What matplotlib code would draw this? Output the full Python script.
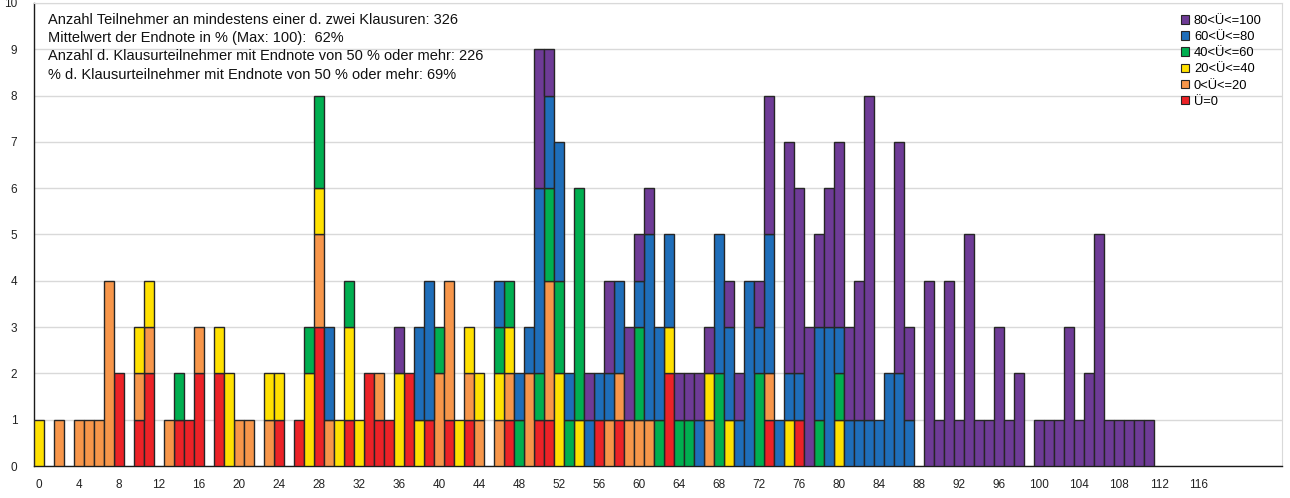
import matplotlib.pyplot as plt
import numpy as np
from matplotlib.patches import Patch

# Endnote in % (0..111), Anzahl Teilnehmer je Übungsgruppe
scores = np.arange(112)

red = [0, 0, 0, 0, 0, 0, 0, 0, 2, 0,
       1, 2, 0, 0, 1, 1, 2, 0, 2, 0,
       0, 0, 0, 0, 1, 0, 1, 0, 3, 0,
       0, 1, 0, 2, 1, 1, 0, 2, 0, 1,
       0, 1, 0, 1, 0, 0, 0, 1, 0, 0,
       1, 1, 0, 0, 0, 0, 1, 0, 1, 0,
       0, 0, 0, 2, 0, 0, 0, 0, 0, 0,
       0, 0, 0, 1, 0, 0, 1, 0, 0, 0] + [0] * 32

orange = [0, 0, 1, 0, 1, 1, 1, 4, 0, 0,
          1, 1, 0, 1, 0, 0, 1, 0, 0, 0,
          1, 1, 0, 1, 0, 0, 0, 0, 2, 1,
          0, 0, 0, 0, 1, 0, 0, 0, 0, 0,
          2, 3, 0, 1, 1, 0, 1, 1, 0, 2,
          0, 3, 0, 0, 0, 0, 0, 1, 1, 1,
          1, 1, 0, 0, 0, 0, 0, 1, 0, 0,
          0, 0, 0, 1, 0, 0, 0, 0, 0, 0] + [0] * 32

yellow = [1, 0, 0, 0, 0, 0, 0, 0, 0, 0,
          1, 1, 0, 0, 0, 0, 0, 0, 1, 2,
          0, 0, 0, 1, 1, 0, 0, 2, 1, 0,
          1, 2, 1, 0, 0, 0, 2, 0, 1, 0,
          0, 0, 1, 1, 1, 0, 1, 1, 0, 0,
          0, 0, 2, 0, 1, 0, 0, 0, 0, 0,
          0, 0, 0, 1, 0, 0, 0, 1, 0, 1,
          0, 0, 0, 0, 0, 1, 0, 0, 0, 0,
          1, 0, 0, 0, 0, 0, 0, 0, 0, 0] + [0] * 22

green = [0, 0, 0, 0, 0, 0, 0, 0, 0, 0,
         0, 0, 0, 0, 1, 0, 0, 0, 0, 0,
         0, 0, 0, 0, 0, 0, 0, 1, 2, 0,
         0, 1, 0, 0, 0, 0, 0, 0, 0, 0,
         1, 0, 0, 0, 0, 0, 1, 1, 1, 0,
         1, 2, 2, 1, 5, 0, 0, 0, 0, 0,
         2, 0, 1, 0, 1, 1, 0, 0, 2, 0,
         0, 0, 2, 0, 0, 0, 0, 0, 1, 0,
         1, 0, 0, 0, 0, 0, 0, 0, 0, 0] + [0] * 22

blue = [0] * 20 + [
        0, 0, 0, 0, 0, 0, 0, 0, 0, 2,
        0, 0, 0, 0, 0, 0, 0, 0, 2, 3,
        0, 0, 0, 0, 0, 0, 1, 0, 1, 1,
        4, 2, 3, 1, 0, 1, 1, 1, 2, 0,
        1, 4, 2, 2, 0, 0, 1, 0, 3, 2,
        1, 4, 1, 3, 1, 1, 1, 0, 2, 3,
        1, 1, 1, 1, 1, 2, 2, 1, 0, 0] + [0] * 22

purple = [0] * 30 + [
          0, 0, 0, 0, 0, 0, 1, 0, 0, 0,
          0, 0, 0, 0, 0, 0, 0, 0, 0, 0,
          3, 1, 0, 0, 0, 1, 0, 2, 0, 2,
          1, 1, 0, 0, 1, 1, 1, 1, 0, 1,
          1, 0, 1, 3, 0, 5, 4, 3, 2, 3,
          4, 2, 3, 7, 0, 0, 5, 2, 0, 4,
          1, 4, 1, 5, 1, 1, 3, 1, 2, 0,
          1, 1, 1, 3, 1, 2, 5, 1, 1, 1,
          1, 1]

labels = ["Ü=0", "0<Ü<=20", "20<Ü<=40", "40<Ü<=60", "60<Ü<=80", "80<Ü<=100"]
colors = ["#EC2227", "#F7964A", "#FFE100", "#00AF50", "#1E6EBA", "#6E3B96"]

info_lines = [
    "Anzahl Teilnehmer an mindestens einer d. zwei Klausuren: 326",
    "Mittelwert der Endnote in % (Max: 100):  62%",
    "Anzahl d. Klausurteilnehmer mit Endnote von 50 % oder mehr: 226",
    "% d. Klausurteilnehmer mit Endnote von 50 % oder mehr: 69%",
]

plt.rcParams['font.family'] = ['Liberation Sans', 'DejaVu Sans']

fig = plt.figure(figsize=(12.9, 4.98), dpi=100)
ax = fig.add_axes([34 / 1290, 32 / 498, 1248 / 1290, 463 / 498])

edge = "#262626"
bottom = np.zeros(len(scores))
for vals, col in zip([red, orange, yellow, green, blue, purple], colors):
    vals = np.array(vals, dtype=float)
    m = vals > 0
    ax.bar(scores[m], vals[m], width=1.0, bottom=bottom[m], color=col,
           edgecolor=edge, linewidth=1.0, zorder=3)
    bottom += vals

ax.set_xlim(-0.5, 124.3)
ax.set_ylim(0, 10)
ax.set_yticks(range(0, 11))
ax.set_xticks(range(0, 117, 4))
ax.tick_params(axis='both', length=0, labelsize=8.5, colors='#222222')
ax.tick_params(axis='x', pad=9)
ax.tick_params(axis='y', pad=12)
ax.yaxis.grid(True, color='#d9d9d9', linewidth=1.0, zorder=0)
ax.set_axisbelow(True)
for s in ['top', 'right']:
    ax.spines[s].set_color('#d9d9d9')
for s in ['left', 'bottom']:
    ax.spines[s].set_color('#1a1a1a')
    ax.spines[s].set_linewidth(1.0)

fig.text(48 / 1290, 1 - 13 / 498, "\n".join(info_lines), fontsize=10.5,
         va='top', ha='left', linespacing=1.38, color='#111111')

handles = [Patch(facecolor=c, edgecolor=edge, linewidth=0.8, label=l)
           for l, c in zip(labels, colors)][::-1]
fig.legend(handles=handles, loc='upper left', bbox_to_anchor=(1181 / 1290, 1 - 15 / 498),
           frameon=False, fontsize=9.3, handlelength=0.65, handleheight=0.65,
           handletextpad=0.35, labelspacing=0.32, borderpad=0, borderaxespad=0)

fig.savefig("out.png", dpi=100)
